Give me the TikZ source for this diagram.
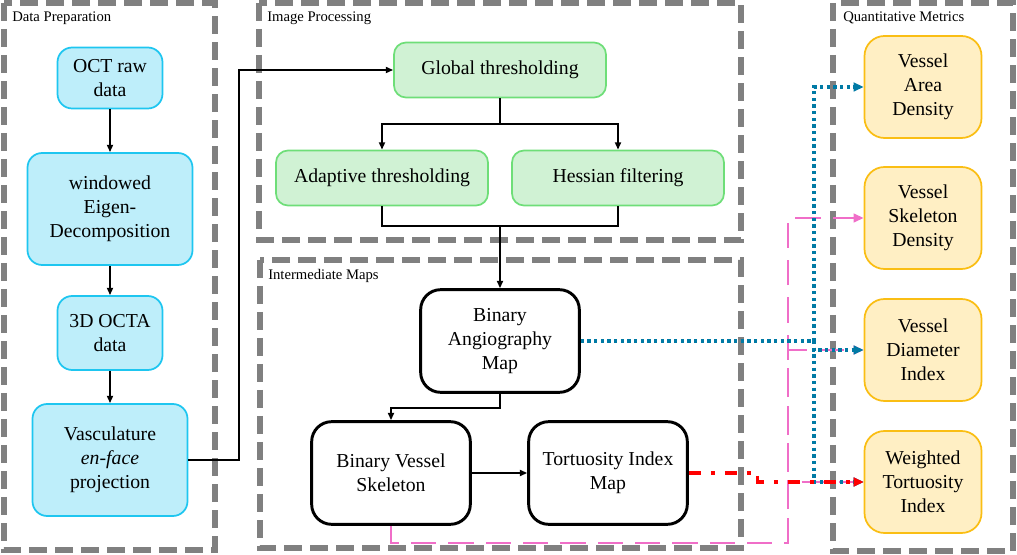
\documentclass[tikz,border=0pt]{standalone}
\usepackage{fontspec}
\setmainfont{Liberation Serif}
\usetikzlibrary{arrows.meta}
\definecolor{framegray}{RGB}{128,128,128}
\definecolor{cyanfill}{RGB}{190,238,250}
\definecolor{cyanline}{RGB}{30,198,240}
\definecolor{greenfill}{RGB}{208,242,212}
\definecolor{greenline}{RGB}{110,222,120}
\definecolor{amberfill}{RGB}{255,239,196}
\definecolor{amberline}{RGB}{250,190,20}
\definecolor{dotblue}{RGB}{0,122,165}
\definecolor{dashpink}{RGB}{240,110,200}
\definecolor{dashred}{RGB}{255,0,0}

\begin{document}
\begin{tikzpicture}[x=0.75pt,y=0.75pt,yscale=-1,xscale=1,
  box/.style={rectangle,align=center,inner sep=2pt,font=\fontsize{14.8}{18}\selectfont},
  prepbox/.style={box,draw=cyanline,fill=cyanfill,line width=1.3pt,rounded corners=11pt},
  procbox/.style={box,draw=greenline,fill=greenfill,line width=1.3pt,rounded corners=9pt,
    minimum width=159pt,minimum height=41.25pt},
  mapbox/.style={box,draw=black,fill=white,line width=2.2pt,rounded corners=15pt,
    minimum width=119pt,minimum height=77pt},
  metricbox/.style={box,draw=amberline,fill=amberfill,line width=1.3pt,rounded corners=15pt,
    minimum width=87.75pt,minimum height=76.5pt},
  frame/.style={draw=framegray,line width=4.5pt,dash pattern=on 13.5pt off 6pt},
  framelabel/.style={anchor=north west,inner sep=0pt,font=\fontsize{11}{12}\selectfont},
  arr/.style={line width=1.5pt,-{Triangle[length=5.5pt,width=4.5pt]}},
  dotarr/.style={draw=dotblue,line width=2.3pt,dash pattern=on 2.5pt off 2.5pt,
    -{Triangle[length=7.5pt,width=6.5pt,fill=dotblue]}},
  pinkarr/.style={draw=dashpink,line width=1.6pt,dash pattern=on 19pt off 9pt,
    -{Triangle[length=7.5pt,width=6.5pt,fill=dashpink]}},
  redarr/.style={draw=dashred,line width=2.3pt,dash pattern=on 9pt off 7.5pt on 3pt off 7.5pt,
    -{Triangle[length=7.5pt,width=6.5pt,fill=dashred]}}]
\useasboundingbox (0,0) rectangle (1017,555);

\draw [frame] (4,3) rectangle (215,550);
\draw [frame] (259,3) rectangle (741,240);
\draw [frame] (260,260) rectangle (741,548);
\draw [frame] (833,3) rectangle (1013,551);
\node [framelabel] (lprep) at (12,12) {Data Preparation};
\node [framelabel] (lproc) at (267,12) {Image Processing};
\node [framelabel] (lmaps) at (268,269) {Intermediate Maps};
\node [framelabel] (lmetr) at (843,12) {Quantitative Metrics};

\node [prepbox,minimum width=78.75pt,minimum height=45.75pt] (oct) at (110,78) {OCT raw\\data};
\node [prepbox,minimum width=123.75pt,minimum height=84pt] (eigen) at (110,209) {windowed\\Eigen-\\Decomposition};
\node [prepbox,minimum width=78.75pt,minimum height=55.5pt] (octa) at (110,333) {3D OCTA\\data};
\node [prepbox,minimum width=116.25pt,minimum height=84pt] (enface) at (110,460) {Vasculature\\\textit{en-face}\\projection};

\node [procbox] (glob) at (500,70) {Global thresholding};
\node [procbox] (adapt) at (382,178) {Adaptive thresholding};
\node [procbox] (hess) at (618,178) {Hessian filtering};

\node [mapbox] (bam) at (500,341) {Binary\\Angiography\\Map};
\node [mapbox] (bvs) at (391,473) {Binary Vessel\\Skeleton};
\node [mapbox] (tim) at (608,473) {Tortuosity Index\\Map};

\node [metricbox] (vad) at (923,87) {Vessel\\Area\\Density};
\node [metricbox] (vsd) at (923,218) {Vessel\\Skeleton\\Density};
\node [metricbox] (vdi) at (923,350) {Vessel\\Diameter\\Index};
\node [metricbox] (wti) at (923,482) {Weighted\\Tortuosity\\Index};

\draw [arr] (oct) -- (eigen);
\draw [arr] (eigen) -- (octa);
\draw [arr] (octa) -- (enface);
\draw [arr] (enface.east) -- ++(51,0) |- (glob.west);
\draw [arr] (glob.south) -- ++(0,26) -| (adapt.north);
\draw [arr] (glob.south) ++(0,26) -| (hess.north);
\draw [line width=1.5pt] (adapt.south) -- ++(0,20) -| (hess.south);
\coordinate (merge) at (500,226);
\draw [arr] (merge) -- (bam.north);
\draw [arr] (bam.south) -- ++(0,14) -| (bvs.north);
\draw [arr] (bvs) -- (tim);

\coordinate (pinkbus) at (788,543);
\draw [pinkarr] (bvs.south) |- (pinkbus) |- (vsd.west);
\draw [pinkarr] (pinkbus) |- (vdi.west);
\draw [pinkarr] (pinkbus) |- (wti.west);

\coordinate (bluebus) at (814,341);
\draw [dotarr] (bam.east) -- (bluebus) |- (vad.west);
\draw [dotarr] (bluebus) |- (vdi.west);
\draw [dotarr] (bluebus) |- (wti.west);

\draw [redarr] (tim.east) -- ++(69,0) |- (wti.west);
\end{tikzpicture}
\end{document}
